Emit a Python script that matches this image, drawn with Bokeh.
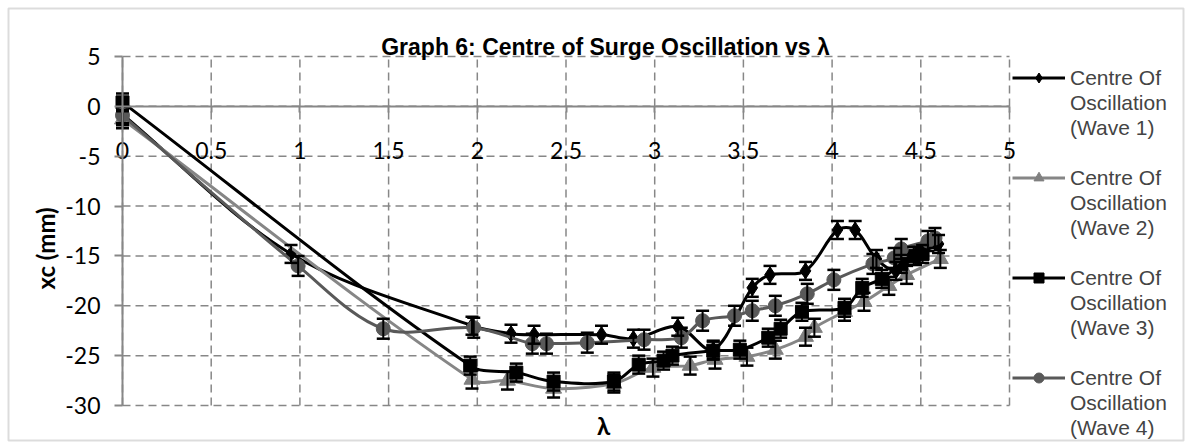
from bokeh.plotting import figure
from bokeh.models import (Range1d, LinearAxis, FixedTicker, NumeralTickFormatter, ColumnDataSource,
                          Whisker, TeeHead, Legend, LegendItem, Label, BoxAnnotation)
from bokeh.embed import file_html
from bokeh.resources import INLINE
import numpy as np

# ---------------- data ----------------
x_ticks = [0, 0.5, 1, 1.5, 2, 2.5, 3, 3.5, 4, 4.5, 5]
y_ticks = [-30, -25, -20, -15, -10, -5, 0, 5]

w1_x = [0, 0.95, 1.97, 2.19, 2.32, 2.70, 2.88, 3.13, 3.33, 3.55, 3.65, 3.85, 4.03, 4.13, 4.25, 4.36, 4.47, 4.60]
w1_y = [-0.8, -14.8, -22.0, -22.8, -22.9, -22.9, -23.3, -22.1, -24.4, -18.2, -16.9, -16.5, -12.4, -12.4, -15.3, -16.5, -15.0, -13.8]
w1_e = [0.9, 0.9, 0.9, 0.9, 0.9, 0.9, 0.9, 0.9, 0.9, 0.9, 0.9, 0.9, 0.9, 0.9, 0.9, 0.9, 0.9, 0.9]

w2_x = [0, 1.97, 2.17, 2.43, 2.77, 2.99, 3.20, 3.34, 3.52, 3.68, 3.85, 3.90, 4.07, 4.18, 4.32, 4.42, 4.61]
w2_y = [-1.3, -27.4, -27.5, -28.3, -27.8, -26.2, -26.0, -25.4, -25.1, -24.4, -23.1, -22.2, -20.6, -19.6, -18.0, -16.9, -15.3]
w2_e = [0.9, 0.9, 0.9, 0.9, 0.9, 0.9, 0.9, 0.9, 0.9, 0.9, 0.9, 0.9, 0.9, 0.9, 0.9, 0.9, 0.9]

w3_x = [0, 1.96, 2.22, 2.43, 2.77, 2.91, 3.05, 3.10, 3.33, 3.48, 3.64, 3.71, 3.83, 4.07, 4.17, 4.28, 4.39, 4.46, 4.51]
w3_y = [0.4, -26.0, -26.7, -27.6, -27.6, -25.9, -25.5, -25.0, -24.5, -24.4, -23.2, -22.3, -20.6, -20.2, -18.2, -17.3, -15.8, -15.0, -14.8]
w3_e = [0.9, 0.9, 0.9, 0.9, 0.9, 0.9, 0.9, 0.9, 0.9, 0.9, 0.9, 0.9, 0.9, 0.9, 0.9, 0.9, 0.9, 0.9, 0.9]

w4_x = [0, 0.99, 1.47, 1.98, 2.31, 2.39, 2.62, 2.94, 3.15, 3.27, 3.45, 3.55, 3.68, 3.86, 4.01, 4.23, 4.35, 4.39, 4.54, 4.58]
w4_y = [-0.9, -16.0, -22.3, -22.2, -23.8, -23.8, -23.7, -23.4, -23.2, -21.5, -21.0, -20.5, -20.0, -18.8, -17.4, -15.8, -15.2, -14.3, -13.5, -13.2]
w4_e = [1.0, 1.0, 1.0, 1.0, 1.0, 1.0, 1.0, 1.0, 1.0, 1.0, 1.0, 1.0, 1.0, 1.0, 1.0, 1.0, 1.0, 1.0, 1.0, 1.0]

legend_lines = [["Centre Of", "Oscillation", "(Wave 1)"],
                ["Centre Of", "Oscillation", "(Wave 2)"],
                ["Centre Of", "Oscillation", "(Wave 3)"],
                ["Centre Of", "Oscillation", "(Wave 4)"]]

# ---------------- layout constants (canvas pixels) ----------------
W, H = 1190, 445
FL, FT, FR, FB = 122, 56, 1009, 405      # plot-area edges
XMIN, XMAX = x_ticks[0], x_ticks[-1]
YMIN, YMAX = y_ticks[0], y_ticks[-1]
kx = (FR - FL) / (XMAX - XMIN)
ky = (FB - FT) / (YMAX - YMIN)
GRID = "#878787"

# the frame covers the whole canvas; the data box is mapped onto FL..FR / FT..FB
p = figure(width=W, height=H, output_backend="svg", toolbar_location=None,
           x_range=Range1d(XMIN - FL / kx, XMAX + (W - FR) / kx),
           y_range=Range1d(YMIN - (H - FB) / ky, YMAX + FT / ky),
           min_border=0, min_border_left=0, min_border_right=0, min_border_top=0, min_border_bottom=0,
           x_axis_location=None, y_axis_location=None)
p.title.text = ""
p.title.visible = False
p.title.standoff = 0
p.outline_line_color = None
p.background_fill_color = "white"
p.border_fill_color = "white"
p.xgrid.visible = False
p.ygrid.visible = False

# dashed grid restricted to the data box
p.segment(x0=x_ticks, y0=[YMIN] * len(x_ticks), x1=x_ticks, y1=[YMAX] * len(x_ticks),
          line_color=GRID, line_width=1.5, line_dash="8 5", level="underlay")
p.segment(x0=[XMIN] * len(y_ticks), y0=y_ticks, x1=[XMAX] * len(y_ticks), y1=y_ticks,
          line_color=GRID, line_width=1.5, line_dash="8 5", level="underlay")

# y axis at x = 0
yax = LinearAxis(ticker=FixedTicker(ticks=y_ticks), formatter=NumeralTickFormatter(format="0"),
                 fixed_location=XMIN, bounds=(YMIN, YMAX))
yax.axis_line_color = GRID
yax.axis_line_width = 2
yax.major_tick_line_color = GRID
yax.major_tick_line_width = 2
yax.major_tick_out = 8
yax.major_tick_in = 0
yax.minor_tick_line_color = None
yax.major_label_standoff = 14
yax.major_label_text_font = "Lato"
yax.major_label_text_font_size = "23px"
yax.major_label_text_color = "black"
p.add_layout(yax, "left")

# x axis crossing at y = 0
xax = LinearAxis(ticker=FixedTicker(ticks=x_ticks), formatter=NumeralTickFormatter(format="0.[0]"),
                 fixed_location=0, bounds=(XMIN, XMAX))
xax.axis_line_color = GRID
xax.axis_line_width = 2
xax.major_tick_line_color = GRID
xax.major_tick_line_width = 2
xax.major_tick_out = 6
xax.major_tick_in = 0
xax.minor_tick_line_color = None
xax.major_label_standoff = 30
xax.major_label_text_font = "Lato"
xax.major_label_text_font_size = "23px"
xax.major_label_text_color = "black"
p.add_layout(xax, "below")


def smooth(x, y):
    """Bezier control points for an Excel-like smoothed line (tangent split by segment length)."""
    x = np.asarray(x, float)
    y = np.asarray(y, float)
    n = len(x)
    px, py = x * kx, y * ky                     # work in pixel space so lengths are isotropic
    seg = np.hypot(np.diff(px), np.diff(py))
    out_c, in_c = [], []
    for i in range(n):
        a = max(i - 1, 0)
        b = min(i + 1, n - 1)
        tx, ty = x[b] - x[a], y[b] - y[a]
        dprev = seg[i - 1] if i > 0 else 0.0
        dnext = seg[i] if i < n - 1 else 0.0
        tot = dprev + dnext
        fo = dnext / tot / 3.0 if tot > 0 else 0.0
        fi = dprev / tot / 3.0 if tot > 0 else 0.0
        if i == 0 or i == n - 1:
            fo = fi = 1.0 / 3.0
        out_c.append((x[i] + tx * fo, y[i] + ty * fo))
        in_c.append((x[i] - tx * fi, y[i] - ty * fi))
    d = {k: [] for k in ("x0", "y0", "x1", "y1", "cx0", "cy0", "cx1", "cy1")}
    for i in range(n - 1):
        d["x0"].append(x[i]); d["y0"].append(y[i]); d["x1"].append(x[i + 1]); d["y1"].append(y[i + 1])
        d["cx0"].append(out_c[i][0]); d["cy0"].append(out_c[i][1])
        d["cx1"].append(in_c[i + 1][0]); d["cy1"].append(in_c[i + 1][1])
    return d


series = [
    (w1_x, w1_y, w1_e, "black", "diamond", 16, "black"),
    (w2_x, w2_y, w2_e, "#868686", "triangle", 16, "#808080"),
    (w3_x, w3_y, w3_e, "black", "square", 13, "black"),
    (w4_x, w4_y, w4_e, "#595959", "circle", 14, "#595959"),
]

blank = p.line(x=[XMIN, XMIN], y=[YMIN, YMIN], line_alpha=0)

items = []
for gi, ((xs, ys, es, lc, mk, ms, mc), lines) in enumerate(zip(series, legend_lines)):
    bz = p.bezier(source=ColumnDataSource(smooth(xs, ys)), x0="x0", y0="y0", x1="x1", y1="y1",
                  cx0="cx0", cy0="cy0", cx1="cx1", cy1="cy1", line_color=lc, line_width=3)
    src = ColumnDataSource(dict(x=xs, y=ys,
                                up=[a + b for a, b in zip(ys, es)],
                                lo=[a - b for a, b in zip(ys, es)]))
    wk = Whisker(source=src, base="x", upper="up", lower="lo", dimension="height",
                 line_color="black", line_width=2, level="glyph",
                 upper_head=TeeHead(size=13, line_color="black", line_width=2.5),
                 lower_head=TeeHead(size=13, line_color="black", line_width=2.5))
    p.add_layout(wk)
    sc = p.scatter("x", "y", source=src, marker=mk, size=ms, fill_color=mc, line_color=mc)
    items.append(LegendItem(label=lines[0], renderers=[bz, sc], index=0))
    for t in lines[1:]:
        items.append(LegendItem(label=t, renderers=[blank]))
    if gi < len(series) - 1:
        items.append(LegendItem(label=" ", renderers=[blank]))

ROW = 25
legend_h = ROW * len(items)
leg_top = 77.5 - ROW / 2
legend = Legend(items=items, location=(1012, H - leg_top - legend_h), orientation="vertical",
                label_text_font="Liberation Sans", label_text_font_size="21px",
                glyph_width=53, glyph_height=ROW, label_height=ROW,
                label_standoff=5, spacing=0, padding=0, margin=0,
                border_line_color=None, background_fill_alpha=0)
p.add_layout(legend)

p.add_layout(Label(x=605, y=H - 46, x_units="screen", y_units="screen",
                   text="Graph 6: Centre of Surge Oscillation vs λ", text_align="center",
                   text_baseline="alphabetic", text_font="Liberation Sans", text_font_style="bold",
                   text_font_size="23px", text_color="black"))
p.add_layout(Label(x=45, y=H - 245, x_units="screen", y_units="screen",
                   text="xc  (mm)", angle=np.pi / 2, text_align="center", text_baseline="middle",
                   text_font="Lato", text_font_style="bold", text_font_size="24px", text_color="black"))
p.add_layout(Label(x=603, y=H - 425, x_units="screen", y_units="screen",
                   text="λ", text_align="center", text_baseline="middle",
                   text_font="Lato", text_font_style="bold", text_font_size="24px", text_color="black"))

p.add_layout(BoxAnnotation(left=8, right=1183, top=H - 8, bottom=H - 440,
                           left_units="screen", right_units="screen", top_units="screen",
                           bottom_units="screen", fill_alpha=0, line_color="#8c8c8c", line_width=2))

open("out.html", "w").write(file_html(p, INLINE))
